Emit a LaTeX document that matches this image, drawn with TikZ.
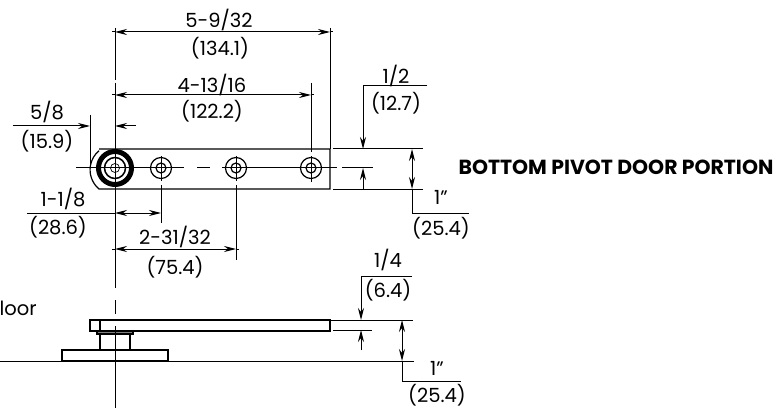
\documentclass[tikz,border=0pt]{standalone}
\usepackage{fontspec}
\setmainfont{Poppins}
\usetikzlibrary{arrows.meta}

\begin{document}
\begin{tikzpicture}[
        x=1pt,
        y=-1pt,
        line width=1pt,
        dimarrow/.style={-{Stealth[length=12pt,width=6pt]}},
        dimboth/.style={{Stealth[length=12pt,width=6pt]}-{Stealth[length=12pt,width=6pt]}},
        dimlabel/.style={inner sep=0pt, font=\fontsize{19.5}{22}\selectfont},
        hole/.style={circle, draw=black, inner sep=0pt, line width=1.2pt}]
        \useasboundingbox (0,0) rectangle (782,409);
        % NODES
        % top view holes
        \node[hole, minimum size=21pt] (HoleA) at (161,168) {};
        \node[hole, minimum size=21pt] (HoleB) at (236,168) {};
        \node[hole, minimum size=21pt] (HoleC) at (311,168) {};
        \node[hole, minimum size=10pt] (HoleAin) at (161,168) {};
        \node[hole, minimum size=10pt] (HoleBin) at (236,168) {};
        \node[hole, minimum size=10pt] (HoleCin) at (311,168) {};
        % pivot rings
        \node[hole, minimum size=33pt, line width=5pt] (PivotOut) at (115,168) {};
        \node[hole, minimum size=21pt, line width=1.5pt] (PivotMid) at (115,168) {};
        \node[hole, minimum size=9pt, line width=0.7pt] (PivotIn) at (115,168) {};
        % labels
        \node[dimlabel] (LenTop) at (219,20) {5-9/32};
        \node[dimlabel] (LenBot) at (220,48) {(134.1)};
        \node[dimlabel] (HoleCTop) at (212,85) {4-13/16};
        \node[dimlabel] (HoleCBot) at (212,111) {(122.2)};
        \node[dimlabel] (EndTop) at (47,112) {5/8};
        \node[dimlabel] (EndBot) at (47,141) {(15.9)};
        \node[dimlabel] (HoleATop) at (63,199) {1-1/8};
        \node[dimlabel] (HoleABot) at (58,227) {(28.6)};
        \node[dimlabel] (HoleBTop) at (175,237) {2-31/32};
        \node[dimlabel] (HoleBBot) at (175,267) {(75.4)};
        \node[dimlabel] (EdgeTop) at (396,76) {1/2};
        \node[dimlabel] (EdgeBot) at (396,103) {(12.7)};
        \node[dimlabel] (WidthTop) at (441,197) {1"};
        \node[dimlabel] (WidthBot) at (441,228) {(25.4)};
        \node[dimlabel] (PlateTop) at (388,260) {1/4};
        \node[dimlabel] (PlateBot) at (388,290) {(6.4)};
        \node[dimlabel] (GapTop) at (437,368) {1"};
        \node[dimlabel] (GapBot) at (437,395) {(25.4)};
        \node[dimlabel, anchor=west] (FloorText) at (-1,308) {loor};
        \node[inner sep=0pt, font=\fontsize{20.4}{22}\selectfont\bfseries] (Title) at (616,167) {BOTTOM PIVOT DOOR PORTION};

        % OUTLINES
        % bar, top view
        \draw[line width=1.2pt] (99,149) -- (330,149) -- (330,189) -- (99,189) arc[start angle=230, end angle=130, radius=25pt];
        % plate, side view
        \draw[line width=1.2pt] (90,320) rectangle (330,331);
        \draw[line width=1.2pt] (100,320) -- (100,331);
        \draw[line width=1.2pt, fill=gray] (97,331) rectangle (133,334);
        \draw[line width=1.2pt] (100,334) rectangle (130,350);
        \draw[line width=1.2pt] (62,350) rectangle (168,361);

        % CENTER LINES
        \draw (76,168) -- (184,168);
        \draw (197,168) -- (210,168);
        \draw (222,168) -- (337,168);
        \draw (342,168) -- (373,168);
        \draw (115,28) -- (115,80);
        \draw (115,83) -- (115,288);
        \draw (115,300) -- (115,314);
        \draw (115,326) -- (115,408);
        \draw (161,156) -- (161,181);
        \draw (236,156) -- (236,181);
        \draw (311,156) -- (311,182);

        % EXTENSION LINES
        \draw (330,28) -- (330,149);
        \draw (311,83) -- (311,152);
        \draw (90,115) -- (90,168);
        \draw (161,185) -- (161,223);
        \draw (236,185) -- (236,260);
        \draw (333,149) -- (423,149);
        \draw (333,189) -- (423,189);
        \draw (330,320) -- (413,320);
        \draw (333,330) -- (372,330);
        \draw (0,361) -- (414,361);

        % ARROWS
        % 5-9/32
        \draw[dimboth] (115,32) -- (330,32);
        \draw (112,32) -- (115,32) (330,32) -- (333,32);
        % 4-13/16
        \draw[dimboth] (115,95) -- (311,95);
        \draw (112,95) -- (115,95) (311,95) -- (314,95);
        % 5/8
        \draw[dimarrow] (13,126) -- (90,126);
        \draw[dimarrow] (136,126) -- (115,126);
        % 1-1/8
        \draw[dimboth] (115,213) -- (161,213);
        \draw (27,213) -- (115,213);
        % 2-31/32
        \draw[dimboth] (115,249) -- (236,249);
        \draw (112,249) -- (115,249) (236,249) -- (239,249);
        % 1/2
        \draw[dimarrow] (427,86) -- (363,86) -- (363,149);
        \draw[dimarrow] (363,189) -- (363,168);
        % 1'' top view
        \draw[dimboth] (412,149) -- (412,189);
        \draw (412,189) -- (412,213) -- (469,213);
        % 1/4
        \draw[dimarrow] (412,276) -- (361,276) -- (361,320);
        \draw[dimarrow] (361,350) -- (361,330);
        % 1'' side view
        \draw[dimboth] (402,320) -- (402,361);
        \draw (402,361) -- (402,381) -- (461,381);
    \end{tikzpicture}
\end{document}
